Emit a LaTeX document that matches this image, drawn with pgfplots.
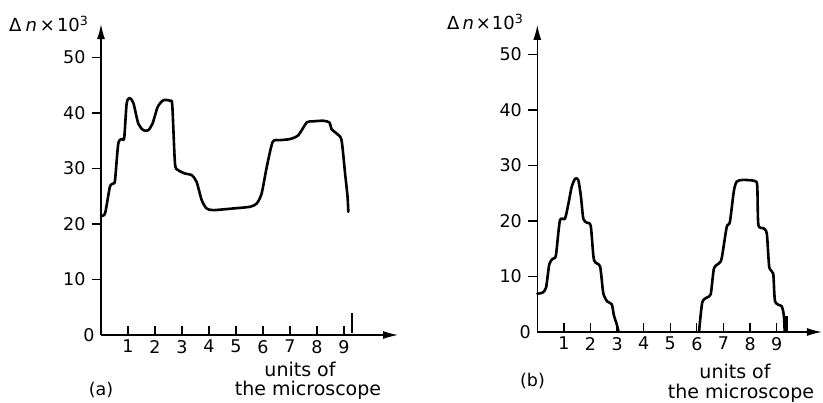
\documentclass[border=0pt]{standalone}
\usepackage{fontspec}
\setmainfont{DejaVu Sans}
\usepackage{pgfplots}
\pgfplotsset{compat=1.18}
\usetikzlibrary{arrows.meta}
\pgfplotsset{
  myax/.style={
    scale only axis, anchor=south west,
    axis lines=left,
    axis line style={line width=1.2pt, black},
    x axis line style={-{Latex[length=15pt,width=8pt]}},
    y axis line style={-{Latex[length=15pt,width=8pt]}},
    xmin=0, ymin=0,
    xtick={1,...,9}, ytick={10,20,30,40,50},
    extra y ticks={0}, extra y tick style={major tick length=0pt},
    xtick align=inside, ytick align=outside,
    major tick length=9pt,
    tick style={line width=1.2pt, black},
    tick label style={font=\fontsize{17.5}{20}\selectfont},
    xticklabel style={yshift=-1.5pt},
    yticklabel style={xshift=-3pt},
    /pgf/number format/assume math mode=true,
    clip=false,
  },
  curve/.style={black, line width=2.6pt, smooth, tension=0.4, line join=round, line cap=round},
}
\begin{document}
\begin{tikzpicture}[x=1pt,y=1pt]
\useasboundingbox (0,0) rectangle (823,403);
% ---------------- (a)
\begin{axis}[myax, at={(101pt,68pt)}, width=297pt, height=310.8pt, xmax=11, ymax=56]
\addplot[curve] coordinates {
(0,21.5) (0.15,21.9) (0.33,26.7) (0.46,27.3) (0.52,27.9) (0.64,34.5) (0.77,35.3) (0.86,35.5)
(0.95,41.7) (1.06,42.7) (1.2,41.8) (1.38,38.1) (1.57,36.9) (1.75,36.9) (1.91,38.1) (2.1,41.1)
(2.31,42.3) (2.56,42.2) (2.64,41.4) (2.74,30.9) (2.86,29.7) (3.11,29.1) (3.36,28.8) (3.54,27.6)
(3.73,24.3) (3.91,22.8) (4.16,22.5) (4.9,22.8) (5.52,23.1) (5.77,23.7) (5.95,25.5) (6.14,30.3)
(6.36,34.8) (6.63,35.1) (7.0,35.3) (7.31,36.0) (7.62,38.3) (7.86,38.5) (8.23,38.6) (8.46,38.3)
(8.54,37.1) (8.75,36.2) (8.91,35.1) (9.04,29.1) (9.13,25.0) (9.16,22.2)
};
\addplot[black, line width=1.4pt] coordinates {(9.3,0.3) (9.3,4)};
\end{axis}
% ---------------- (b)
\begin{axis}[myax, at={(537.3pt,71pt)}, width=284.6pt, height=307pt, xmax=10.7, ymax=55.3]
\addplot[curve] coordinates {
(0,6.9) (0.2,7.1) (0.33,8.0) (0.45,12.2) (0.58,13.2) (0.7,13.8) (0.85,20.1) (1.04,20.4)
(1.17,23.1) (1.29,26.1) (1.42,27.6) (1.54,27.4) (1.64,24.4) (1.73,20.4) (1.86,19.7) (2.01,19.1)
(2.13,13.0) (2.36,11.8) (2.48,7.0) (2.63,5.5) (2.8,5.0) (2.88,3.0) (2.98,1.5) (3.05,0.2)
};
\addplot[curve] coordinates {
(6.08,0) (6.2,5.3) (6.37,6.2) (6.52,6.8) (6.64,11.4) (6.81,12.3) (6.93,13.2) (7.12,18.9)
(7.24,19.8) (7.39,25.4) (7.5,27.1) (7.74,27.4) (8.18,27.2) (8.27,26.3) (8.31,19.3) (8.5,18.7)
(8.63,17.7) (8.72,11.7) (8.87,10.5) (8.94,5.5) (9.19,4.6) (9.27,2.9) (9.3,0.2)
};
\addplot[black, line width=2.6pt] coordinates {(9.37,0) (9.37,2.8)};
\end{axis}
% ---------------- texts
\node[anchor=base west, inner sep=0, font=\fontsize{18}{20}\selectfont] at (9,371.3) {Δ\hspace{4pt}\textit{n}\hspace{3pt}×\hspace{2pt}10\textsuperscript{3}};
\node[anchor=base west, inner sep=0, font=\fontsize{18}{20}\selectfont] at (447,373) {Δ\hspace{3pt}\textit{n}\hspace{2pt}×\hspace{1pt}10\textsuperscript{3}};
\node[inner sep=0, font=\fontsize{17.5}{20}\selectfont] at (101,13) {(a)};
\node[inner sep=0, font=\fontsize{17.5}{20}\selectfont] at (532.5,22) {(b)};
\node[anchor=base, inner sep=0, font=\fontsize{19}{20}\selectfont] at (300,26.5) {units of};
\node[anchor=base, inner sep=0, font=\fontsize{19}{20}\selectfont] at (308,7) {the microscope};
\node[anchor=base, inner sep=0, font=\fontsize{19}{20}\selectfont] at (735,24) {units of};
\node[anchor=base, inner sep=0, font=\fontsize{19}{20}\selectfont] at (741,4.6) {the microscope};
\end{tikzpicture}
\end{document}
